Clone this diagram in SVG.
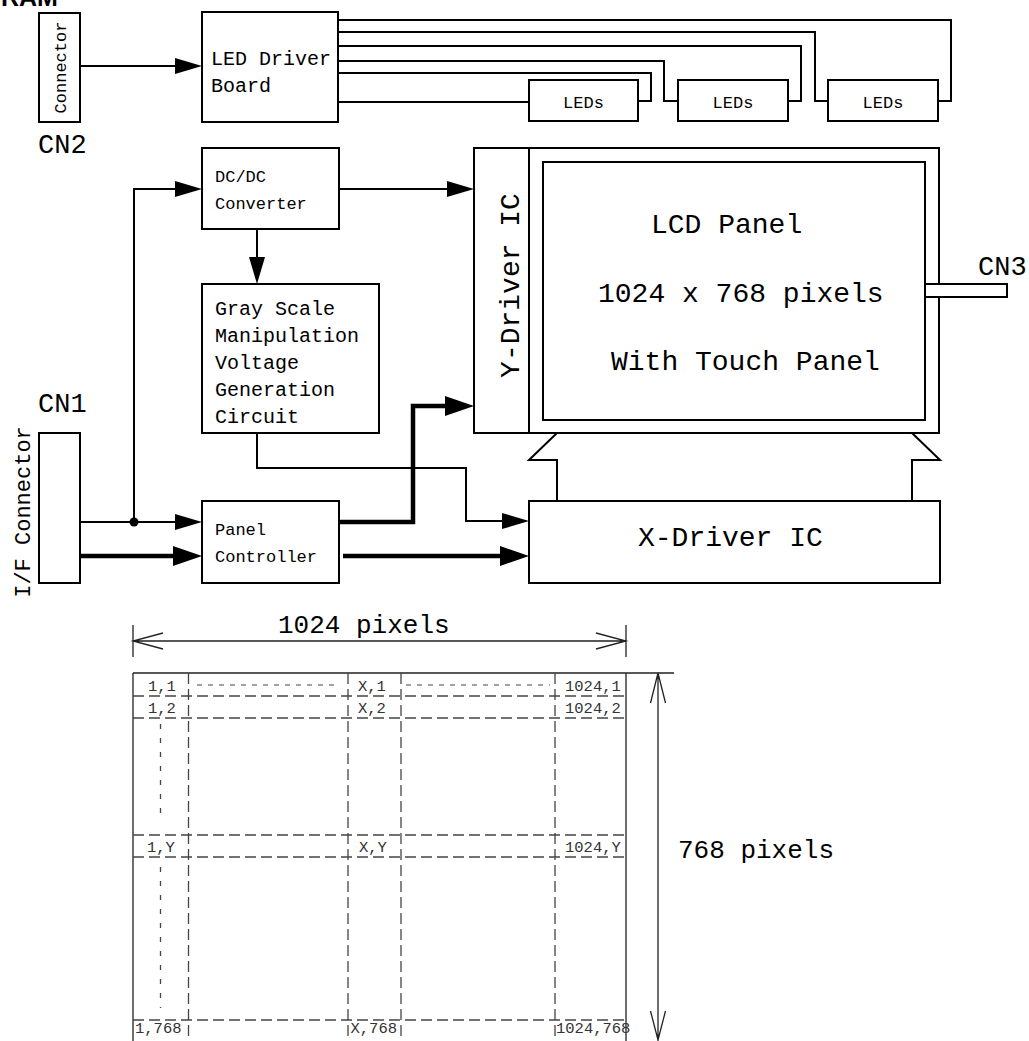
<svg xmlns="http://www.w3.org/2000/svg" width="1029" height="1041" viewBox="0 0 1029 1041">
<defs>
<style>
.box{fill:#fff;stroke:#000;stroke-width:2}
.w{fill:none;stroke:#000;stroke-width:2}
.tk{fill:none;stroke:#000;stroke-width:4.5}
.t{font-family:"Liberation Mono","Courier New",monospace;fill:#000}
.gs{fill:none;stroke:#222;stroke-width:1.3}
.gd{fill:none;stroke:#444;stroke-width:1.3;stroke-dasharray:11 5}
.gdot{fill:none;stroke:#444;stroke-width:1.3;stroke-dasharray:5 9}
.gsh{fill:none;stroke:#444;stroke-width:1.2;stroke-dasharray:5 6}
.gl{font-family:"Liberation Mono","Courier New",monospace;font-size:15.5px;fill:#333}
</style>
<marker id="a" viewBox="0 0 27 16" markerWidth="27" markerHeight="16" refX="17" refY="8" orient="auto" markerUnits="userSpaceOnUse"><path d="M0,0 L27,8 L0,16 z" fill="#000"/></marker>
<marker id="at" viewBox="0 0 29 20" markerWidth="29" markerHeight="20" refX="19" refY="10" orient="auto" markerUnits="userSpaceOnUse"><path d="M0,0 L29,10 L0,20 z" fill="#000"/></marker>
</defs>
<rect x="0" y="0" width="1029" height="1041" fill="#fff"/>
<text x="1" y="6" font-family="Liberation Sans, Arial, sans-serif" font-weight="bold" font-size="25">RAM</text>

<g id="cn2">
<rect class="box" x="39" y="13" width="41" height="109"/>
<text class="t" font-size="17" text-anchor="middle" transform="translate(66,67.5) rotate(-90)">Connector</text>
<text class="t" font-size="27" x="38" y="153">CN2</text>
</g>
<g id="led-driver">
<rect class="box" x="202" y="12" width="136" height="110"/>
<text class="t" font-size="20" x="211" y="65">LED Driver</text>
<text class="t" font-size="20" x="211" y="92">Board</text>
</g>
<g id="leds1">
<rect class="box" x="529" y="80" width="109" height="41"/>
<text class="t" font-size="17" text-anchor="middle" x="583.5" y="108">LEDs</text>
</g>
<g id="leds2">
<rect class="box" x="678" y="80" width="110" height="41"/>
<text class="t" font-size="17" text-anchor="middle" x="733" y="108">LEDs</text>
</g>
<g id="leds3">
<rect class="box" x="828" y="80" width="110" height="41"/>
<text class="t" font-size="17" text-anchor="middle" x="883" y="108">LEDs</text>
</g>
<g id="dcdc">
<rect class="box" x="202" y="148" width="137" height="81"/>
<text class="t" font-size="17" x="215" y="182">DC/DC</text>
<text class="t" font-size="17" x="215" y="209">Converter</text>
</g>
<g id="grayscale">
<rect class="box" x="202" y="284" width="177" height="149"/>
<text class="t" font-size="20" x="215" y="315">Gray Scale</text>
<text class="t" font-size="20" x="215" y="342">Manipulation</text>
<text class="t" font-size="20" x="215" y="369">Voltage</text>
<text class="t" font-size="20" x="215" y="396">Generation</text>
<text class="t" font-size="20" x="215" y="423">Circuit</text>
</g>
<g id="ydriver">
<rect class="box" x="474" y="148" width="55" height="285"/>
<text class="t" font-size="28" text-anchor="middle" transform="translate(519,285.5) rotate(-90)">Y-Driver IC</text>
</g>
<g id="lcd">
<rect class="box" x="529" y="148" width="410" height="285"/>
<rect class="box" x="543" y="162" width="382" height="258"/>
<rect class="box" x="925" y="284" width="82" height="13"/>
<text class="t" font-size="28" x="651" y="233">LCD Panel</text>
<text class="t" font-size="28" x="598" y="302">1024 x 768 pixels</text>
<text class="t" font-size="28" x="611" y="370">With Touch Panel</text>
<text class="t" font-size="27" x="978" y="275">CN3</text>
</g>
<g id="flex">
<path class="w" d="M557,433 L529,460 H557 V501"/>
<path class="w" d="M912,433 L940,460 H912 V501"/>
</g>
<g id="xdriver">
<rect class="box" x="529" y="501" width="411" height="82"/>
<text class="t" font-size="28" x="638" y="546">X-Driver IC</text>
</g>
<g id="if-connector">
<rect class="box" x="39" y="433" width="41" height="150"/>
<text class="t" font-size="22" text-anchor="middle" transform="translate(30,512) rotate(-90)">I/F Connector</text>
<text class="t" font-size="27" x="38" y="412">CN1</text>
</g>
<g id="panel-controller">
<rect class="box" x="202" y="501" width="137" height="82"/>
<text class="t" font-size="17" x="215" y="535">Panel</text>
<text class="t" font-size="17" x="215" y="562">Controller</text>
</g>

<g id="connectors">
<path class="w" d="M80,66 H192" marker-end="url(#a)"/>
<path class="w" d="M338,20 H951 V101 H938"/>
<path class="w" d="M338,32 H815 V101 H828"/>
<path class="w" d="M338,46 H801 V101 H788"/>
<path class="w" d="M338,61 H664 V101 H678"/>
<path class="w" d="M338,73 H651 V101 H638"/>
<path class="w" d="M338,102 H529"/>
<path class="w" d="M80,522 H192" marker-end="url(#a)"/>
<path class="w" d="M134,522 V189 H192" marker-end="url(#a)"/>
<circle cx="134" cy="522" r="4.5" fill="#000"/>
<path class="w" d="M339,189 H464" marker-end="url(#a)"/>
<path class="w" d="M257,229 V274" marker-end="url(#a)"/>
<path class="w" d="M257,433 V468 H466 V521 H519" marker-end="url(#a)"/>
<path class="tk" d="M80,556 H192" marker-end="url(#at)"/>
<path class="tk" d="M339,522 H413 V406 H464" marker-end="url(#at)"/>
<path class="tk" d="M343,556 H519" marker-end="url(#at)"/>
</g>

<g id="pixel-map">
<path class="gs" d="M133,625 V657 M626,625 V657 M133,641 H626 M163,633 L133,641 L163,649 M596,633 L626,641 L596,649"/>
<text class="t" font-size="26" x="278" y="633">1024 pixels</text>
<path class="gs" d="M133,673 H674 M133,673 V1041 M626,673 V1041"/>
<path class="gs" d="M658,673 V1041 M650.5,703 L658,673 L665.5,703 M650.5,1011 L658,1040 L665.5,1011"/>
<text class="t" font-size="26" x="678" y="858">768 pixels</text>
<path class="gd" d="M133,696 H626 M133,718 H626 M133,835 H626 M133,857 H626 M133,1020 H626"/>
<path class="gd" d="M188.5,673 V1041 M348,673 V1041 M401,673 V1041 M555,673 V1041"/>
<path class="gdot" d="M160.5,724 V822 M160.5,867 V1008"/>
<path class="gsh" d="M197,685 H340 M406,685 H550"/>
<text class="gl" x="148" y="691">1,1</text>
<text class="gl" x="358" y="691">X,1</text>
<text class="gl" x="565" y="691">1024,1</text>
<text class="gl" x="148" y="713">1,2</text>
<text class="gl" x="358" y="713">X,2</text>
<text class="gl" x="565" y="713">1024,2</text>
<text class="gl" x="147" y="852">1,Y</text>
<text class="gl" x="359" y="852">X,Y</text>
<text class="gl" x="565" y="852">1024,Y</text>
<text class="gl" x="135" y="1033">1,768</text>
<text class="gl" x="350.5" y="1033">X,768</text>
<text class="gl" x="556" y="1033">1024,768</text>
</g>
</svg>
